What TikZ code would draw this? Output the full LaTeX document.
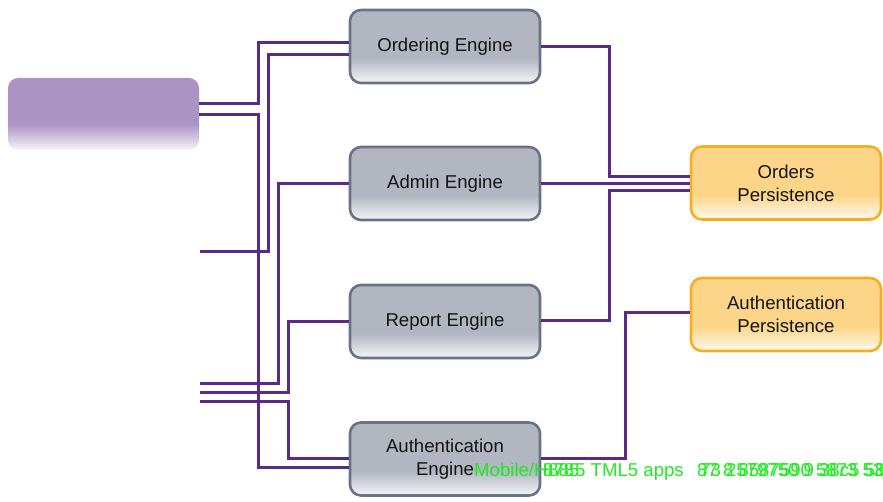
\documentclass[tikz,border=0pt]{standalone}
\usepackage{fontspec}
\setmainfont{Liberation Sans}
\definecolor{engc}{HTML}{B2B6C1}
\definecolor{engl}{HTML}{F5F6F8}
\definecolor{engd}{HTML}{687388}
\definecolor{perc}{HTML}{FCD588}
\definecolor{perl}{HTML}{FFFAF0}
\definecolor{perd}{HTML}{F7AE22}
\definecolor{purc}{HTML}{AB94C3}
\definecolor{purl}{HTML}{F8F5FA}
\definecolor{wirec}{HTML}{5A2A88}
\definecolor{grn}{RGB}{30,235,30}
\pgfdeclareverticalshading{engsh}{100bp}{color(0bp)=(engl); color(25bp)=(engl); color(42bp)=(engc); color(100bp)=(engc)}
\pgfdeclareverticalshading{persh}{100bp}{color(0bp)=(perl); color(25bp)=(perl); color(42bp)=(perc); color(100bp)=(perc)}
\pgfdeclareverticalshading{pursh}{100bp}{color(0bp)=(purl); color(25bp)=(purl); color(43bp)=(purc); color(100bp)=(purc)}
\tikzset{
  engine/.style={draw=engd, line width=2.6pt, rounded corners=11pt, shading=engsh,
    minimum width=190pt, minimum height=73pt, inner sep=0pt,
    font=\fontsize{18.6}{23}\selectfont, align=center, text=black!92},
  persist/.style={engine, draw=perd, shading=persh},
  wirepath/.style={draw=wirec, line width=3pt},
  gtext/.style={text=grn, font=\fontsize{18.6}{20}\selectfont, inner sep=0pt, anchor=base west}
}
\begin{document}
\begin{tikzpicture}[x=1pt,y=-1pt]
\useasboundingbox (0,0) rectangle (883,502);
% boxes
\node[shading=pursh, rounded corners=10pt, minimum width=191pt, minimum height=72pt, inner sep=0pt] (pur) at (103.5,114) {};
\node[engine] (ord) at (445,46.5) {Ordering Engine};
\node[engine] (adm) at (445,183.5) {Admin Engine};
\node[engine] (rep) at (445,321.5) {Report Engine};
\node[engine] (aut) at (445,459) {Authentication\\Engine};
\node[persist] (op) at (786,183) {Orders\\Persistence};
\node[persist] (ap) at (786,314.5) {Authentication\\Persistence};
% free ends
\coordinate (f1) at (200,252);
\coordinate (f2) at (200,383);
\coordinate (f3) at (200,392);
\coordinate (f4) at (200,401);
% left wires
\draw[wirepath] (pur.east |- 0,104) -- (258,104) |- (ord.west |- 0,43);
\draw[wirepath] (pur.east |- 0,115) -- (258,115) |- (aut.west |- 0,467);
\draw[wirepath] (f1) -- (268,252) |- (ord.west |- 0,55);
\draw[wirepath] (f2) -- (278,383) |- (adm.west |- 0,184);
\draw[wirepath] (f3) -- (288,392) |- (rep.west |- 0,322);
\draw[wirepath] (f4) -- (288,401) |- (aut.west |- 0,458);
% right wires
\draw[wirepath] (ord.east |- 0,47) -- (609,47) |- (op.west |- 0,177);
\draw[wirepath] (adm.east |- 0,184) -- (op.west |- 0,184);
\draw[wirepath] (rep.east |- 0,321) -- (609,321) |- (op.west |- 0,191);
\draw[wirepath] (aut.east |- 0,458) -- (625,458) |- (ap.west |- 0,313);
% overlapping green text
\node[gtext] (g1) at (474,476) {Mobile/H};
\node[gtext] (g2) at (543,476) {878};
\node[gtext] (g3) at (548,476) {885};
\node[gtext] (g4) at (575,476) {5 TML5 apps};
\node[gtext] (g5) at (697,476) {87 8 8587590 5873 53};
\node[gtext] (g6) at (700,476) {73 2579750 9 38c5 58};
\end{tikzpicture}
\end{document}
